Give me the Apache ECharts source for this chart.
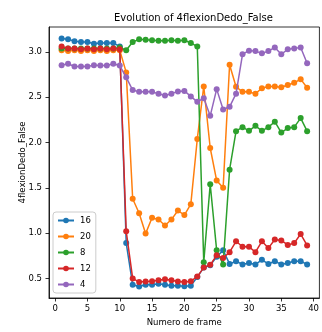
<!DOCTYPE html>
<html>
<head>
<meta charset="utf-8">
<script src="https://cdn.jsdelivr.net/npm/echarts@6/dist/echarts.min.js"></script>
<style>
  html, body { margin: 0; padding: 0; background: #fff; }
  #chart { width: 322px; height: 332px; }
</style>
</head>
<body>
<div id="chart"></div>
<script>
// Frame numbers on the x axis
const frames = [1,2,3,4,5,6,7,8,9,10,11,12,13,14,15,16,17,18,19,20,21,22,23,24,25,26,27,28,29,30,31,32,33,34,35,36,37,38,39];

// Measured values per series
const s16 = [3.15,3.14,3.12,3.11,3.11,3.09,3.10,3.10,3.10,3.06,0.89,0.43,0.41,0.43,0.43,0.44,0.43,0.42,0.42,0.415,0.42,0.515,0.62,0.645,0.74,0.81,0.66,0.69,0.655,0.67,0.655,0.705,0.66,0.69,0.655,0.67,0.69,0.69,0.655];
const s20 = [3.02,3.01,3.02,3.01,3.02,3.01,3.02,3.01,3.02,3.02,2.775,1.38,1.22,0.995,1.17,1.15,1.085,1.15,1.25,1.20,1.32,2.04,2.62,1.94,1.58,1.50,2.86,2.616,2.56,2.56,2.54,2.60,2.62,2.62,2.61,2.635,2.66,2.70,2.605];
const s8  = [3.04,3.04,3.04,3.04,3.04,3.04,3.04,3.04,3.04,3.05,3.02,3.11,3.14,3.135,3.13,3.125,3.125,3.13,3.125,3.13,3.10,3.06,0.68,1.54,0.81,0.655,1.70,2.126,2.17,2.13,2.185,2.13,2.17,2.23,2.11,2.16,2.17,2.27,2.126];
const s12 = [3.06,3.04,3.04,3.03,3.04,3.03,3.04,3.03,3.04,3.03,1.02,0.50,0.46,0.467,0.47,0.48,0.49,0.48,0.467,0.46,0.47,0.52,0.62,0.65,0.755,0.725,0.79,0.91,0.85,0.85,0.79,0.91,0.835,0.93,0.92,0.87,0.89,0.99,0.865];
const s4  = [2.855,2.87,2.84,2.84,2.84,2.855,2.85,2.85,2.87,2.85,2.72,2.58,2.56,2.56,2.56,2.54,2.52,2.54,2.565,2.57,2.51,2.45,2.49,2.295,2.59,2.365,2.395,2.54,2.975,3.015,3.01,2.985,3.01,3.05,2.975,3.03,3.04,3.05,2.875];

const seriesNames = ['16', '20', '8', '12', '4'];
const seriesValues = [s16, s20, s8, s12, s4];
const palette = ['#1f77b4', '#ff7f0e', '#2ca02c', '#d62728', '#9467bd'];

// Tick positions
const xTicks = [0, 5, 10, 15, 20, 25, 30, 35, 40];
const yTicks = [0.5, 1.0, 1.5, 2.0, 2.5, 3.0];

const FONT = 'DejaVu Sans';
const chart = echarts.init(document.getElementById('chart'), null, { renderer: 'canvas' });

const series = seriesNames.map((name, i) => ({
  name: name,
  type: 'line',
  data: frames.map((f, k) => [f, seriesValues[i][k]]),
  symbol: 'circle',
  symbolSize: 6,
  showSymbol: true,
  lineStyle: { width: 1.5, color: palette[i] },
  itemStyle: { color: palette[i] },
  z: 2 + i,
  animation: false,
  emphasis: { disabled: true }
}));

chart.setOption({
  animation: false,
  title: {
    text: 'Evolution of 4flexionDedo_False',
    left: 109,
    top: 8,
    textStyle: { fontFamily: FONT, fontSize: 10, fontWeight: 'normal', color: '#000' }
  },
  legend: {
    orient: 'vertical',
    left: 53,
    top: 212,
    data: seriesNames,
    itemWidth: 16,
    itemHeight: 7,
    itemGap: 7,
    padding: [4, 5, 4, 4],
    borderColor: '#cccccc',
    borderWidth: 1,
    borderRadius: 3,
    backgroundColor: 'rgba(255,255,255,0.8)',
    textStyle: { fontFamily: FONT, fontSize: 8.5, color: '#000', padding: [0, 0, 0, 1] }
  },
  grid: {
    left: 49, right: 2, top: 27, bottom: 34,
    show: true, borderColor: '#000', borderWidth: 0.8, backgroundColor: '#fff'
  },
  xAxis: {
    type: 'value',
    min: -0.95,
    max: 40.9,
    name: 'Numero de frame',
    nameLocation: 'middle',
    nameGap: 20,
    nameTextStyle: { fontFamily: FONT, fontSize: 8.5, color: '#000' },
    axisLine: { show: true, onZero: false, lineStyle: { color: '#000', width: 0.8 } },
    axisTick: { show: true, customValues: xTicks, length: 3.5, lineStyle: { color: '#000', width: 0.8 } },
    axisLabel: { customValues: xTicks, margin: 6, fontFamily: FONT, fontSize: 8.5, color: '#000' },
    splitLine: { show: false }
  },
  yAxis: {
    type: 'value',
    min: 0.284,
    max: 3.276,
    name: '4flexionDedo_False',
    nameLocation: 'middle',
    nameGap: 22,
    nameMoveOverlap: false,
    nameRotate: 90,
    nameTextStyle: { fontFamily: FONT, fontSize: 8.5, color: '#000' },
    axisLine: { show: true, onZero: false, lineStyle: { color: '#000', width: 0.8 } },
    axisTick: { show: true, customValues: yTicks, length: 3.5, lineStyle: { color: '#000', width: 0.8 } },
    axisLabel: {
      customValues: yTicks, margin: 7, fontFamily: FONT, fontSize: 8.5, color: '#000',
      formatter: v => v.toFixed(1)
    },
    splitLine: { show: false }
  },
  series: series
});
</script>
</body>
</html>
